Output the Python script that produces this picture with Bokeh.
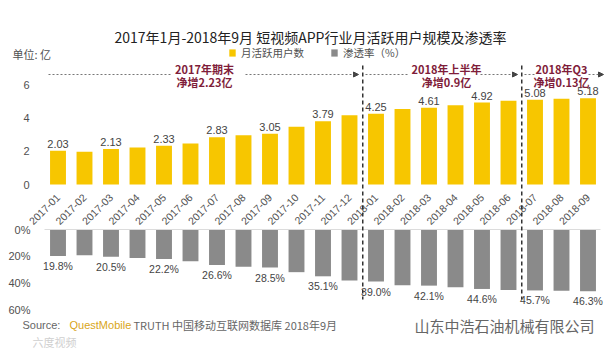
from math import pi
from bokeh.plotting import figure
from bokeh.models import (ColumnDataSource, Range1d, FixedTicker, Label, LinearAxis,
                          Arrow, NormalHead, Legend, LegendItem, PrintfTickFormatter)
from bokeh.core.properties import value
from bokeh.embed import file_html
from bokeh.resources import INLINE

# ---------------- data ----------------
months = ["2017-01", "2017-02", "2017-03", "2017-04", "2017-05", "2017-06", "2017-07",
          "2017-08", "2017-09", "2017-10", "2017-11", "2017-12", "2018-01", "2018-02",
          "2018-03", "2018-04", "2018-05", "2018-06", "2018-07", "2018-08", "2018-09"]
mau = [2.03, 1.97, 2.13, 2.22, 2.33, 2.46, 2.83, 2.95, 3.05, 3.47, 3.79, 4.15,
       4.25, 4.53, 4.61, 4.75, 4.92, 5.02, 5.08, 5.14, 5.18]
penetration = [19.8, 19.3, 20.5, 21.4, 22.2, 23.8, 26.6, 28.0, 28.5, 32.0, 35.1, 38.2,
               39.0, 41.8, 42.1, 43.4, 44.6, 45.3, 45.7, 46.0, 46.3]
labeled_months = ["2017-01", "2017-03", "2017-05", "2017-07", "2017-09", "2017-11",
                  "2018-01", "2018-03", "2018-05", "2018-07", "2018-09"]
mau_ticks = [0, 2, 4, 6]
pen_ticks = [0, 20, 40, 60]
title_text = "2017年1月-2018年9月 短视频APP行业月活跃用户规模及渗透率"
legend_labels = ["月活跃用户数", "渗透率（%）"]
periods = [("2017年期末", "净增2.23亿"), ("2018年上半年", "净增0.9亿"), ("2018年Q3", "净增0.13亿")]
dividers = ["2018-01", "2018-07"]

YEL = "#F7C600"
GRAY = "#8A8A8A"
MAROON = "#7F1D3A"
TXT = "#505050"

# ---------------- geometry (page px -> data) ----------------
W, H = 608, 348
X0, CAT_PX = 57.5, 26.5        # centre of first bar, px per month
ZERO_TOP, UNIT_PX = 184, 100 / 6
ZERO_BOT, PCT_PX = 229, 80 / 60


def sx(px):
    return (px - X0) / CAT_PX


def ty(py):
    return (ZERO_TOP - py) / UNIT_PX


def by(py):
    return (py - ZERO_BOT) / PCT_PX


idx = list(range(len(months)))
src = ColumnDataSource(dict(
    x=idx, mau=mau, pen=penetration,
    mau_lbl=[f"{v:.2f}" if m in labeled_months else "" for m, v in zip(months, mau)],
    pen_lbl=[f"{v:.1f}%" if m in labeled_months else "" for m, v in zip(months, penetration)],
))

p = figure(title=None, x_range=Range1d(sx(0), sx(W)), y_range=Range1d(ty(H), ty(0)),
           frame_width=W, frame_height=H, min_border=0,
           output_backend="svg", toolbar_location=None, outline_line_color=None,
           background_fill_color="white", border_fill_color="white")
p.extra_y_ranges = {"pen": Range1d(start=by(H), end=by(0))}

r_mau = p.vbar(x="x", top="mau", bottom=0, width=0.6, source=src, fill_color=YEL, line_color=None)
r_pen = p.vbar(x="x", top="pen", bottom=0, width=0.6, source=src, fill_color=GRAY,
               line_color=None, y_range_name="pen")
p.text(x="x", y="mau", text="mau_lbl", source=src, text_align="center",
       text_baseline="bottom", y_offset=-3, text_font_size="11px",
       text_font=value("Liberation Sans"), text_color="#444")
p.text(x="x", y="pen", text="pen_lbl", source=src, text_align="center",
       text_baseline="top", y_offset=4, text_font_size="10.5px",
       text_font=value("Liberation Sans"), text_color="#444", y_range_name="pen")

p.xgrid.visible = False
p.ygrid.visible = False

yloc = sx(44)
# x axis (month labels) sitting on the zero line of the upper chart
xa = p.xaxis[0]
xa.fixed_location = 0
xa.ticker = FixedTicker(ticks=idx)
xa.major_label_overrides = {i: m for i, m in zip(idx, months)}
xa.major_label_orientation = pi / 4
xa.major_tick_line_color = None
xa.minor_tick_line_color = None
xa.axis_line_color = None
xa.major_label_standoff = 5
xa.major_label_text_font = "Liberation Sans"
xa.major_label_text_font_size = "10.5px"
xa.major_label_text_color = TXT

ya = p.yaxis[0]
ya.fixed_location = yloc
ya.ticker = FixedTicker(ticks=mau_ticks)
ya.axis_line_color = None
ya.major_tick_line_color = None
ya.minor_tick_line_color = None
ya.major_label_standoff = 9
ya.major_label_text_font = "Liberation Sans"
ya.major_label_text_font_size = "11px"
ya.major_label_text_color = TXT

ya2 = LinearAxis(y_range_name="pen", fixed_location=yloc, ticker=FixedTicker(ticks=pen_ticks),
                 formatter=PrintfTickFormatter(format="%d%%"), axis_line_color=None,
                 major_tick_line_color=None, minor_tick_line_color=None, major_label_standoff=8,
                 major_label_text_font="Liberation Sans", major_label_text_font_size="11px",
                 major_label_text_color=TXT)
p.add_layout(ya2, "left")

# zero line of the lower chart
p.add_layout(Arrow(end=None, x_start=yloc, y_start=0, x_end=sx(600), y_end=0,
                   y_range_name="pen", line_color="#dcdcdc", line_width=1))

# title / unit / legend
p.add_layout(Label(x=sx(310), y=ty(36), text=title_text, text_align="center",
                   text_baseline="middle", text_font="Noto Sans CJK SC",
                   text_font_size="14px", text_color="#222"))
p.add_layout(Label(x=sx(12), y=ty(53), text="单位: 亿", text_align="left",
                   text_baseline="middle", text_font="Noto Sans CJK SC",
                   text_font_size="11px", text_color=TXT))

legend = Legend(items=[LegendItem(label=legend_labels[0], renderers=[r_mau]),
                       LegendItem(label=legend_labels[1], renderers=[r_pen])],
                location=(228, H - 60), orientation="horizontal", glyph_width=8, glyph_height=9,
                label_standoff=5, spacing=26, padding=0, margin=0, border_line_color=None,
                background_fill_alpha=0, label_text_font="Noto Sans CJK SC",
                label_text_font_size="10.5px", label_text_color=TXT, label_height=14)
p.add_layout(legend)

# period annotations
ann_cx = [204, 446, 561]
for (l1, l2), cx in zip(periods, ann_cx):
    p.add_layout(Label(x=sx(cx), y=ty(68), text=l1, text_align="center",
                       text_baseline="middle", text_font="Noto Sans CJK SC",
                       text_font_style="bold", text_font_size="11px", text_color=MAROON))
    p.add_layout(Label(x=sx(cx), y=ty(81), text=l2, text_align="center",
                       text_baseline="middle", text_font="Noto Sans CJK SC",
                       text_font_style="bold", text_font_size="11px", text_color=MAROON))

ay = ty(74)
line_segs = [(48, 170), (365, 408), (524, 535)]
arrow_segs = [(245, 358), (480, 517), (588, 603)]
for a, b in line_segs:
    p.add_layout(Arrow(end=None, x_start=sx(a), y_start=ay, x_end=sx(b), y_end=ay,
                       line_color="#777", line_dash="2 2", line_width=1))
for a, b in arrow_segs:
    p.add_layout(Arrow(end=NormalHead(size=5, fill_color="#444", line_color="#444"),
                       x_start=sx(a), y_start=ay, x_end=sx(b), y_end=ay,
                       line_color="#777", line_dash="2 2", line_width=1))

for d in dividers:
    xi = months.index(d) - 0.5
    p.add_layout(Arrow(end=None, x_start=xi, y_start=ty(65), x_end=xi, y_end=ty(299),
                       line_color="#333", line_dash="4 3", line_width=1.5))

# footer
fy = ty(324)
p.add_layout(Label(x=sx(22), y=fy, text="Source:", text_align="left", text_baseline="middle",
                   text_font="Liberation Sans", text_font_size="11px", text_color="#666"))
p.add_layout(Label(x=sx(69), y=fy, text="QuestMobile", text_align="left", text_baseline="middle",
                   text_font="Liberation Sans", text_font_size="11px", text_color="#D9A520"))
p.add_layout(Label(x=sx(133), y=fy, text="TRUTH 中国移动互联网数据库 2018年9月",
                   text_align="left", text_baseline="middle", text_font="Noto Sans CJK SC",
                   text_font_size="11px", text_color="#666"))
p.add_layout(Label(x=sx(414), y=ty(325), text="山东中浩石油机械有限公司", text_align="left",
                   text_baseline="middle", text_font="Noto Sans CJK SC",
                   text_font_size="15px", text_color="#666"))
p.add_layout(Label(x=sx(32), y=ty(341), text="六度视频", text_align="left",
                   text_baseline="middle", text_font="Noto Sans CJK SC",
                   text_font_size="11px", text_color="#cfcfcf"))

open("out.html", "w").write(file_html(p, INLINE))
